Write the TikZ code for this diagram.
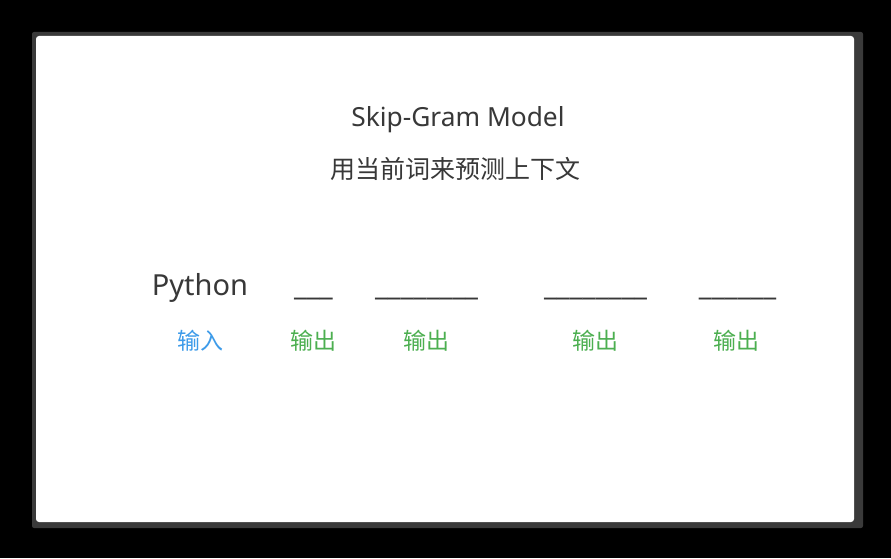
\documentclass[tikz,border=0pt]{standalone}
\usepackage{fontspec}
\setmainfont{Noto Sans}
\newfontfamily\cjk{Noto Sans CJK SC}
\definecolor{txt}{HTML}{383838}
\definecolor{inblue}{HTML}{3D9BE9}
\definecolor{outgreen}{HTML}{4CAF50}
\definecolor{frame}{HTML}{3A3A3A}
\begin{document}
\begin{tikzpicture}[x=1pt,y=1pt,
  lbl/.style={inner sep=0pt, anchor=center, font=\cjk\fontsize{23}{25}\selectfont},
  inlbl/.style={lbl, text=inblue},
  outlbl/.style={lbl, text=outgreen},
  word/.style={inner sep=0pt, anchor=base, text=txt, font=\fontsize{29}{32}\selectfont},
]
\useasboundingbox (0,0) rectangle (891,558);
\fill[black] (0,0) rectangle (891,558);
\fill[frame, rounded corners=2pt] (32,30) rectangle (863,526);
\fill[white, rounded corners=3pt] (36,36) rectangle (854,522);
% titles
\node[inner sep=0pt, anchor=base, text=txt, font=\fontsize{26.3}{30}\selectfont] (title) at (458,431) {Skip-Gram Model};
\node[inner sep=0pt, anchor=center, text=txt, font=\cjk\fontsize{25}{28}\selectfont] (sub) at (455,389) {用当前词来预测上下文};
% words
\node[word] (w0) at (200,263) {Python};
\node[word] (w1) at (313.5,263) {\_\_\_};
\node[word] (w2) at (426.5,263) {\_\_\_\_\_\_\_\_};
\node[word] (w3) at (595.5,263) {\_\_\_\_\_\_\_\_};
\node[word] (w4) at (737.5,263) {\_\_\_\_\_\_};
% labels
\node[inlbl] (l0) at (200,217) {输入};
\node[outlbl] (l1) at (313,217) {输出};
\node[outlbl] (l2) at (426,217) {输出};
\node[outlbl] (l3) at (595,217) {输出};
\node[outlbl] (l4) at (736,217) {输出};
\end{tikzpicture}
\end{document}
